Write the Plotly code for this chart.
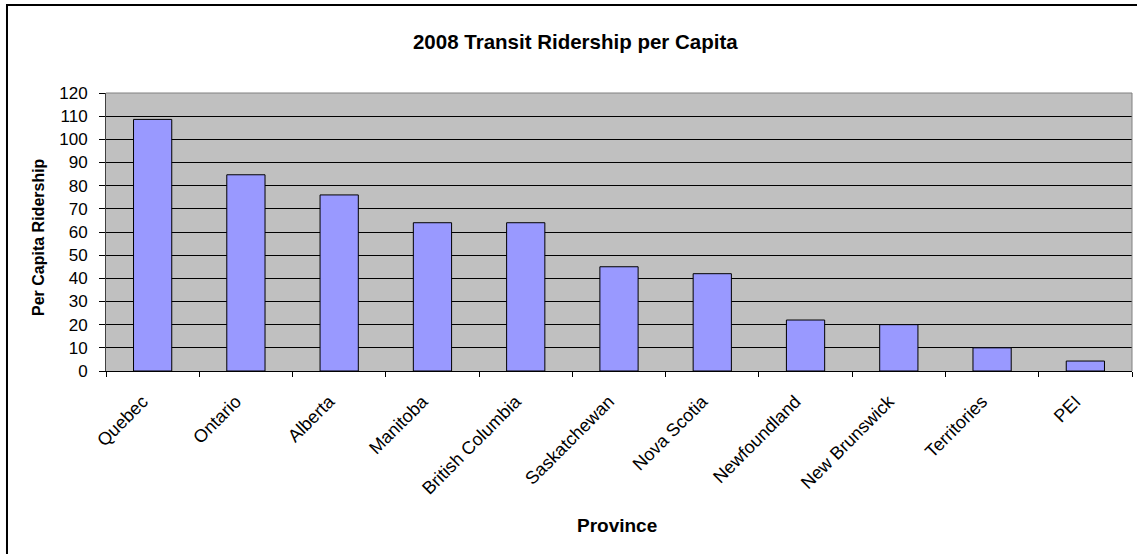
# 2008 transit ridership per capita, by province
import plotly.graph_objects as go

# data
provinces = ["Quebec", "Ontario", "Alberta", "Manitoba", "British Columbia",
             "Saskatchewan", "Nova Scotia", "Newfoundland", "New Brunswick",
             "Territories", "PEI"]
ridership = [108.6, 84.7, 76, 64, 64, 45, 42, 22, 20, 10, 4.3]
y_ticks = list(range(0, 121, 10))

font_main = "Liberation Sans, Arial, sans-serif"

fig = go.Figure()
fig.add_trace(go.Bar(
    x=provinces, y=ridership,
    marker=dict(color="#9999FF", line=dict(color="#000000", width=1)),
    width=0.41,
))

fig.update_layout(
    width=1137, height=554,
    margin=dict(l=106, r=5, t=93, b=183),
    paper_bgcolor="white", plot_bgcolor="#C0C0C0",
    font=dict(family=font_main, color="black", size=17),
    showlegend=False,
    title=dict(text="<b>2008 Transit Ridership per Capita</b>",
               x=0.506, xref="container", xanchor="center",
               y=0.925, yref="container", yanchor="middle",
               font=dict(size=20.5)),
)

fig.update_xaxes(
    tickangle=-45, tickson="boundaries", ticks="outside", ticklen=5,
    tickcolor="black", showline=True, linecolor="black", linewidth=1,
    showgrid=False, tickfont=dict(size=18),
    ticklabelshift=-10, ticklabelstandoff=12,
)
fig.update_yaxes(
    range=[0, 120], tickvals=y_ticks, ticks="outside", ticklen=6,
    tickcolor="black", showline=True, linecolor="#404040", linewidth=1,
    showgrid=True, gridcolor="black", gridwidth=1, zeroline=False,
    tickfont=dict(size=17), ticklabelstandoff=8,
)

# axis titles placed as in the reference
fig.add_annotation(text="<b>Province</b>", xref="paper", yref="paper",
                   x=0.4985, y=-0.554, xanchor="center", yanchor="middle",
                   showarrow=False, font=dict(size=19))
fig.add_annotation(text="<b>Per Capita Ridership</b>", xref="paper", yref="paper",
                   x=-0.0663, y=0.482, xanchor="center", yanchor="middle",
                   textangle=-90, showarrow=False, font=dict(size=16))

# grey plot-area border on top and right
fig.add_shape(type="line", xref="paper", yref="paper", x0=0, x1=1, y0=1, y1=1,
              line=dict(color="#808080", width=1))
fig.add_shape(type="line", xref="paper", yref="paper", x0=1, x1=1, y0=0, y1=1,
              line=dict(color="#808080", width=1))
# outer chart frame (left and top edges visible)
fig.add_shape(type="rect", xref="paper", yref="paper",
              x0=-0.0965, x1=1.02, y0=-0.70, y1=1.3165,
              line=dict(color="black", width=2))

fig.write_html("out.html", config={"displayModeBar": False},
               post_script="document.body.style.margin='0px';")
